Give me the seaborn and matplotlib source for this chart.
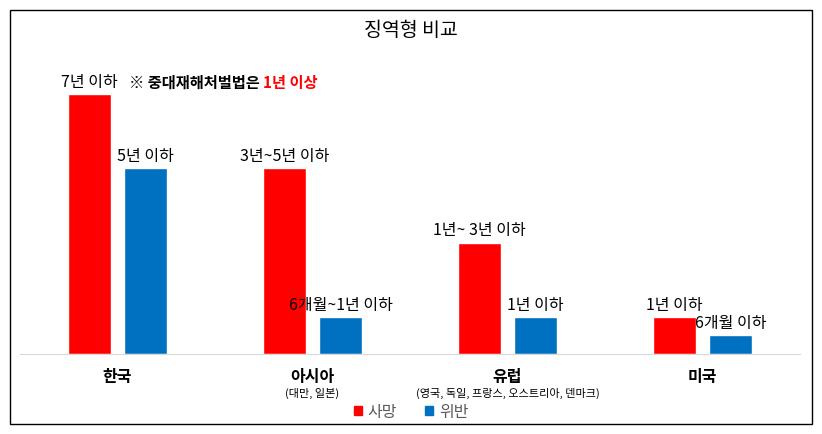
import matplotlib
matplotlib.use("Agg")
import matplotlib.pyplot as plt
from matplotlib.patches import Rectangle
import pandas as pd
import seaborn as sns

# data (upper bound of prison term, in years)
regions = ["한국", "아시아", "유럽", "미국"]
region_notes = ["", "(대만, 일본)", "(영국, 독일, 프랑스, 오스트리아, 덴마크)", ""]
series = ["사망", "위반"]
death_years = [7, 5, 3, 1]
violation_years = [5, 1, 1, 0.5]
death_labels = ["7년 이하", "3년~5년 이하", "1년~ 3년 이하", "1년 이하"]
violation_labels = ["5년 이하", "6개월~1년 이하", "1년 이하", "6개월 이하"]
title = "징역형 비교"
note_black = "※ 중대재해처벌법은 "
note_red = "1년 이상"

colors = {"사망": "#FF0000", "위반": "#0070C0"}

df = pd.DataFrame({
    "region": regions * 2,
    "kind": [series[0]] * len(regions) + [series[1]] * len(regions),
    "years": death_years + violation_years,
    "label": death_labels + violation_labels,
})

sns.set_theme(style="white")
plt.rcParams["font.family"] = ["Noto Sans CJK KR", "DejaVu Sans"]

fig = plt.figure(figsize=(8.22, 4.35), dpi=100)
ax = fig.add_axes([20 / 822, 80 / 435, 780 / 822, 297 / 435])

sns.barplot(data=df, x="region", y="years", hue="kind", order=regions,
            hue_order=series, palette=colors, width=0.575, gap=0.235,
            saturation=1, errorbar=None, legend=False, ax=ax)

ax.set_xlim(-0.5, 3.5)
ax.set_ylim(0, 8)
ax.set_xlabel("")
ax.set_ylabel("")
ax.set_yticks([])
for side in ["top", "left", "right"]:
    ax.spines[side].set_visible(False)
ax.spines["bottom"].set_color("#d9d9d9")
ax.spines["bottom"].set_linewidth(0.8)

# labels above bars
for container, kind in zip(ax.containers, series):
    sub = df[df["kind"] == kind].set_index("region").loc[regions]
    ax.bar_label(container, labels=list(sub["label"]), padding=3,
                 fontsize=11.5, color="#000000")

# category labels: bold name + small note beneath
ax.set_xticks(range(len(regions)))
ax.set_xticklabels(regions, fontsize=11.5, fontweight="bold", color="#000000")
ax.tick_params(axis="x", length=0, pad=10)
for i, note in enumerate(region_notes):
    if note:
        ax.annotate(note, xy=(i, 0), xycoords="data", xytext=(0, -28),
                    textcoords="offset points", ha="center", va="center",
                    fontsize=8, color="#000000")

# note next to the Korean death bar
t1 = ax.annotate(note_black, xy=(0.06, death_years[0]), xytext=(0, 3),
                 textcoords="offset points", fontsize=11, fontweight="bold",
                 color="#000000", ha="left", va="bottom")
ax.annotate(note_red, xy=(1, 0), xycoords=t1, ha="left", va="bottom",
            fontsize=11, fontweight="bold", color="#FF0000")

fig.text(0.5, 1 - 30 / 435, title, ha="center", va="center", fontsize=14,
         color="#000000")

handles = [Rectangle((0, 0), 1, 1, color=colors[s]) for s in series]
fig.legend(handles, series, loc="center", bbox_to_anchor=(0.5, 1 - 413 / 435),
           ncol=2, frameon=False, fontsize=11.5, labelcolor="#595959",
           handlelength=0.5, handleheight=0.5, handletextpad=0.35,
           columnspacing=1.8)

# outer frame
fig.patches.append(Rectangle((10 / 822, 10 / 435), 802 / 822, 414 / 435,
                             transform=fig.transFigure, fill=False,
                             edgecolor="#000000", linewidth=1))

fig.savefig("out.png", dpi=100)
